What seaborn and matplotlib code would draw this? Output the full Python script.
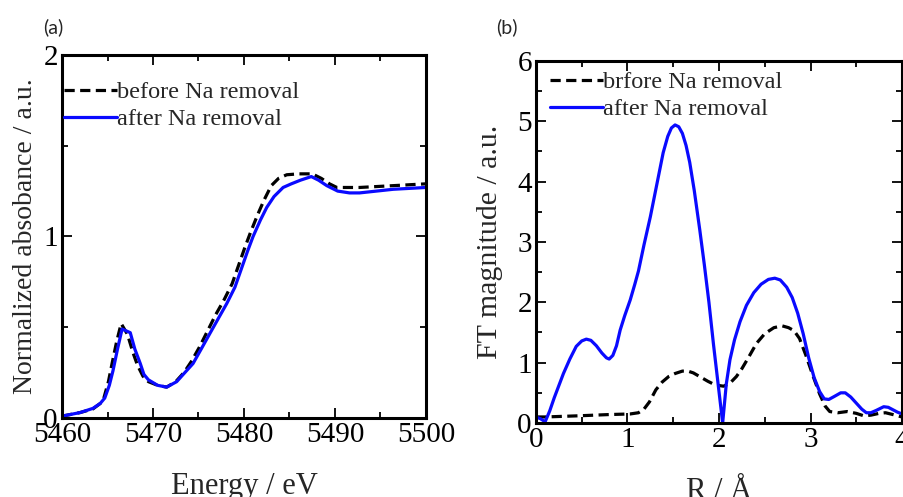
import matplotlib
matplotlib.use("Agg")
import matplotlib.pyplot as plt
import seaborn as sns
from matplotlib.ticker import MultipleLocator

# ---------------- data ----------------
# Panel (a): XANES
energy_before = [5460.0, 5461.0, 5462.0, 5463.4, 5464.2, 5464.6, 5465.1, 5465.5, 5466.0, 5466.5,
                 5467.2, 5467.8, 5468.3, 5468.9, 5469.5, 5470.5, 5471.5, 5472.5, 5473.4, 5474.2,
                 5475.1, 5476.0, 5476.9, 5477.8, 5478.7, 5479.4, 5480.1, 5480.7, 5481.5, 5482.2,
                 5483.0, 5483.8, 5484.7, 5486.0, 5487.5, 5488.5, 5489.4, 5490.2, 5492.7, 5496.4, 5500.0]
abs_before = [0.01, 0.02, 0.03, 0.05, 0.08, 0.11, 0.20, 0.30, 0.42, 0.52,
              0.46, 0.36, 0.29, 0.23, 0.20, 0.18, 0.17, 0.20, 0.25, 0.31,
              0.39, 0.48, 0.57, 0.65, 0.74, 0.84, 0.94, 1.02, 1.12, 1.20,
              1.28, 1.32, 1.34, 1.345, 1.345, 1.32, 1.29, 1.27, 1.27, 1.28, 1.29]

energy_after = [5460.0, 5461.0, 5462.0, 5463.4, 5464.2, 5464.7, 5465.2, 5465.6, 5466.1, 5466.6,
                5467.5, 5468.0, 5468.6, 5469.0, 5469.5, 5470.5, 5471.5, 5472.6, 5473.5, 5474.4,
                5475.3, 5476.3, 5477.2, 5478.1, 5479.0, 5479.7, 5480.4, 5481.0, 5481.8, 5482.5,
                5483.3, 5484.3, 5485.2, 5486.2, 5487.4, 5488.2, 5489.1, 5490.3, 5491.6, 5492.7,
                5496.4, 5500.0]
abs_after = [0.01, 0.02, 0.03, 0.053, 0.08, 0.11, 0.18, 0.26, 0.38, 0.49,
             0.47, 0.38, 0.30, 0.24, 0.21, 0.18, 0.17, 0.20, 0.25, 0.30,
             0.38, 0.47, 0.55, 0.63, 0.72, 0.82, 0.92, 1.00, 1.09, 1.16,
             1.22, 1.27, 1.29, 1.31, 1.33, 1.31, 1.28, 1.25, 1.24, 1.24,
             1.26, 1.27]

# Panel (b): Fourier transforms
r_before = [0.00, 0.10, 0.48, 0.80, 1.03, 1.12, 1.18, 1.24, 1.31, 1.38,
            1.45, 1.52, 1.60, 1.66, 1.72, 1.80, 1.88, 1.96, 2.05, 2.12,
            2.19, 2.25, 2.32, 2.41, 2.50, 2.60, 2.69, 2.76, 2.82, 2.88,
            2.95, 3.03, 3.10, 3.16, 3.21, 3.30, 3.40, 3.50, 3.58, 3.66,
            3.75, 3.82, 3.90, 4.00]
ft_before = [0.10, 0.10, 0.12, 0.14, 0.15, 0.17, 0.23, 0.35, 0.55, 0.68,
             0.77, 0.82, 0.86, 0.86, 0.83, 0.76, 0.69, 0.63, 0.61, 0.66,
             0.77, 0.90, 1.08, 1.32, 1.48, 1.58, 1.61, 1.58, 1.53, 1.40,
             1.12, 0.77, 0.48, 0.28, 0.19, 0.17, 0.19, 0.16, 0.12, 0.13,
             0.16, 0.17, 0.14, 0.10]

r_after = [0.00, 0.05, 0.10, 0.15, 0.20, 0.25, 0.30, 0.37, 0.44, 0.50,
           0.55, 0.60, 0.66, 0.72, 0.77, 0.80, 0.84, 0.88, 0.92, 0.97,
           1.03, 1.08, 1.12, 1.18, 1.25, 1.32, 1.39, 1.44, 1.48, 1.52,
           1.56, 1.60, 1.64, 1.68, 1.73, 1.79, 1.84, 1.89, 1.94, 1.99,
           2.04, 2.08, 2.12, 2.17, 2.23, 2.30, 2.38, 2.46, 2.54, 2.61,
           2.67, 2.74, 2.80, 2.86, 2.92, 2.98, 3.04, 3.10, 3.15, 3.20,
           3.26, 3.33, 3.38, 3.44, 3.50, 3.56, 3.61, 3.66, 3.72, 3.80,
           3.85, 3.90, 3.95, 4.00]
ft_after = [0.10, 0.07, 0.02, 0.20, 0.42, 0.62, 0.82, 1.06, 1.27, 1.36,
            1.39, 1.37, 1.28, 1.16, 1.08, 1.06, 1.12, 1.28, 1.54, 1.78,
            2.04, 2.30, 2.52, 2.95, 3.42, 3.95, 4.48, 4.75, 4.89, 4.94,
            4.91, 4.80, 4.60, 4.32, 3.85, 3.20, 2.62, 2.00, 1.30, 0.65,
            0.00, 0.65, 1.05, 1.38, 1.68, 1.95, 2.16, 2.30, 2.38, 2.40,
            2.37, 2.25, 2.08, 1.82, 1.48, 1.08, 0.75, 0.52, 0.40, 0.39,
            0.44, 0.50, 0.50, 0.43, 0.33, 0.23, 0.17, 0.17, 0.21, 0.27,
            0.26, 0.22, 0.18, 0.15]

labels_a = ["before Na removal", "after Na removal"]
labels_b = ["brfore Na removal", "after Na removal"]

# ---------------- style ----------------
sns.set_theme(style="ticks")
plt.rcParams["font.family"] = ["Liberation Serif", "DejaVu Serif"]
plt.rcParams["mathtext.fontset"] = "stix"

BLUE = "#0a0aff"
LW = 2.3
DASH = (0, (3.2, 1.7))

fig = plt.figure(figsize=(9.04, 4.97), dpi=100)
ax1 = fig.add_axes([0.0686, 0.159, 0.4026, 0.7304])
ax2 = fig.add_axes([0.5929, 0.1489, 0.4049, 0.7284])

sns.lineplot(x=energy_before, y=abs_before, ax=ax1, color="black", lw=LW,
             linestyle=DASH, label=labels_a[0], estimator=None, sort=False)
sns.lineplot(x=energy_after, y=abs_after, ax=ax1, color=BLUE, lw=LW,
             label=labels_a[1], estimator=None, sort=False)

sns.lineplot(x=r_before, y=ft_before, ax=ax2, color="black", lw=LW,
             linestyle=DASH, label=labels_b[0], estimator=None, sort=False)
sns.lineplot(x=r_after, y=ft_after, ax=ax2, color=BLUE, lw=LW,
             label=labels_b[1], estimator=None, sort=False)

ax1.set_xlim(5460, 5500)
ax1.set_ylim(0, 2)
ax1.xaxis.set_major_locator(MultipleLocator(10))
ax1.xaxis.set_minor_locator(MultipleLocator(5))
ax1.yaxis.set_major_locator(MultipleLocator(1))
ax1.yaxis.set_minor_locator(MultipleLocator(0.5))

ax2.set_xlim(0, 4)
ax2.set_ylim(0, 6)
ax2.xaxis.set_major_locator(MultipleLocator(1))
ax2.xaxis.set_minor_locator(MultipleLocator(0.5))
ax2.yaxis.set_major_locator(MultipleLocator(1))
ax2.yaxis.set_minor_locator(MultipleLocator(0.5))

for ax in (ax1, ax2):
    for sp in ax.spines.values():
        sp.set_visible(True)
        sp.set_linewidth(2.2)
        sp.set_color("black")
    ax.tick_params(which="both", direction="in", top=True, right=True,
                   colors="black", labelsize=21, width=1.3, pad=3)
    ax.tick_params(which="major", length=7)
    ax.tick_params(which="minor", length=4)
    ax.grid(False)

ax1.set_xlabel("Energy / eV", fontsize=22)
ax1.set_ylabel("Normalized absobance / a.u.", fontsize=20)
ax2.set_xlabel("R / Å", fontsize=22)
ax2.set_ylabel("FT magnitude / a.u.", fontsize=21.5)

ax1.xaxis.set_label_coords(0.5, -0.15)
ax2.xaxis.set_label_coords(0.5, -0.15)
ax1.yaxis.set_label_coords(-0.065, 0.5)
ax2.yaxis.set_label_coords(-0.09, 0.5)

legend_kw = dict(loc="upper left", frameon=False, fontsize=17.5, handlelength=2.15,
                 handletextpad=0.0, labelspacing=0.22, borderaxespad=0.0, borderpad=0.1)
ax1.legend(bbox_to_anchor=(0.0, 0.935), **legend_kw)
ax2.legend(bbox_to_anchor=(0.033, 0.979), **legend_kw)

fig.text(43 / 904, 1 - 27 / 497, "(a)", family="Lato", fontsize=14, va="center", ha="left")
fig.text(496 / 904, 1 - 27 / 497, "(b)", family="Lato", fontsize=14, va="center", ha="left")

fig.savefig("out.png", dpi=100)
